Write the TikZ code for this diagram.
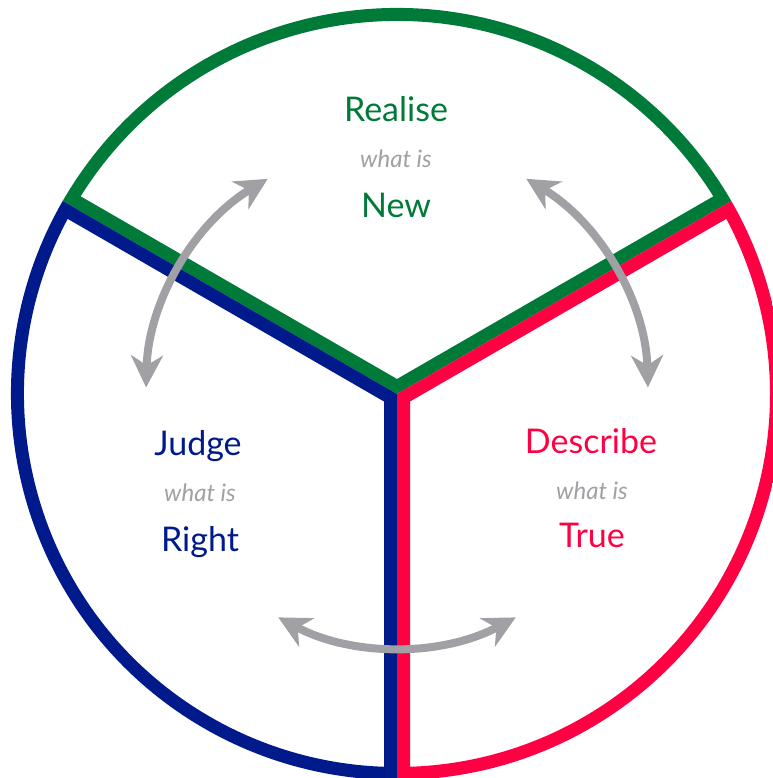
\documentclass[tikz,border=0pt]{standalone}
\usepackage{fontspec}
\setmainfont{Lato}
\usetikzlibrary{arrows.meta,calc}
\definecolor{rgreen}{RGB}{0,122,56}
\definecolor{rblue}{RGB}{0,26,140}
\definecolor{rred}{RGB}{255,0,66}
\definecolor{rgrey}{RGB}{160,160,165}
\tikzset{
  sectorline/.style={line width=26pt, line join=miter},
  big/.style={font=\fontsize{34}{34}\selectfont, anchor=base, inner sep=0pt},
  small/.style={font=\fontsize{24}{24}\selectfont\itshape, text=rgrey, anchor=base, inner sep=0pt},
  twoway/.style={draw=rgrey, line width=8pt,
    {Stealth[length=32pt,width=32pt,inset=10pt]}-{Stealth[length=32pt,width=32pt,inset=10pt]}},
}
\begin{document}
\begin{tikzpicture}[x=1pt,y=1pt]
\useasboundingbox (0,0) rectangle (772,778);
\coordinate (C) at (397,384);
% green sector
\begin{scope}
  \clip (C) -- ($(C)+(150:386)$) arc[start angle=150,end angle=30,radius=386] -- cycle;
  \draw[sectorline, rgreen] (C) -- ($(C)+(150:386)$) arc[start angle=150,end angle=30,radius=386] -- cycle;
\end{scope}
% blue sector
\begin{scope}
  \clip (C) -- ($(C)+(150:386)$) arc[start angle=150,end angle=270,radius=386] -- cycle;
  \draw[sectorline, rblue] (C) -- ($(C)+(150:386)$) arc[start angle=150,end angle=270,radius=386] -- cycle;
\end{scope}
% red sector
\begin{scope}
  \clip (C) -- ($(C)+(270:386)$) arc[start angle=270,end angle=390,radius=386] -- cycle;
  \draw[sectorline, rred] (C) -- ($(C)+(270:386)$) arc[start angle=270,end angle=390,radius=386] -- cycle;
\end{scope}
% arrows
\draw[twoway] ($(C)+(121:251)$) arc[start angle=121,end angle=178.5,radius=251];
\draw[twoway] ($(C)+(59:251)$) arc[start angle=59,end angle=1.5,radius=251];
\draw[twoway] ($(C)+(242:253)$) arc[start angle=242,end angle=298,radius=253];
% texts
\node[big, text=rgreen] (realise) at (396,656) {Realise};
\node[small] (w1) at (396,610) {what is};
\node[big, text=rgreen] (new) at (396,560) {New};
\node[big, text=rblue] (judge) at (198,322) {Judge};
\node[small] (w2) at (200,276) {what is};
\node[big, text=rblue] (right) at (200,226) {Right};
\node[big, text=rred] (describe) at (591,324) {Describe};
\node[small] (w3) at (592,278) {what is};
\node[big, text=rred] (true) at (592,230) {True};
\end{tikzpicture}
\end{document}
